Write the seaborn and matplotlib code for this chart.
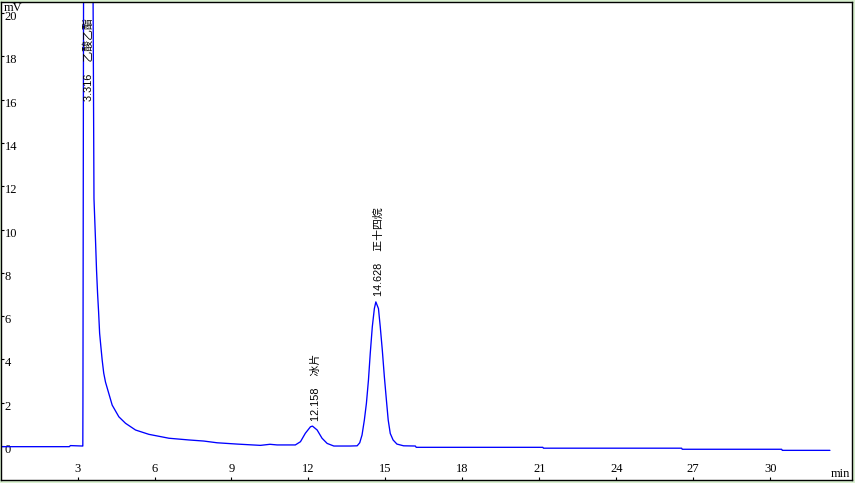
import numpy as np
import pandas as pd
import matplotlib
matplotlib.use("Agg")
import matplotlib.pyplot as plt
from matplotlib.transforms import ScaledTranslation
import seaborn as sns

# ---- data ----
time_min = [0.05, 1.0, 2.0, 2.68, 2.72, 3.19, 3.205, 3.21, 3.245, 3.316, 3.57, 3.64,
            3.70, 3.74, 3.78, 3.82, 3.86, 3.91, 3.96, 4.02, 4.09, 4.22, 4.35, 4.61,
            4.87, 5.26, 5.78, 6.56, 7.34, 7.92, 8.44, 9.22, 10.13, 10.50, 10.78, 11.49,
            11.69, 11.88, 12.08, 12.158, 12.34, 12.53, 12.73, 12.99, 13.63, 13.90,
            14.00, 14.09, 14.18, 14.26, 14.34, 14.41, 14.49, 14.57, 14.628, 14.73,
            14.80, 14.88, 14.96, 15.04, 15.11, 15.19, 15.30, 15.45, 15.71, 16.17,
            16.20, 21.14, 21.16, 26.55, 26.57, 30.45, 30.47, 32.33]
signal_mv = [-0.03, -0.03, -0.03, -0.03, 0.02, 0.0, 0.0, 2.1, 30.0, 60.0, 30.0, 11.43,
             9.51, 8.12, 7.06, 6.20, 5.21, 4.58, 3.97, 3.37, 2.95, 2.42, 1.89, 1.35,
             1.05, 0.74, 0.54, 0.36, 0.28, 0.23, 0.15, 0.09, 0.03, 0.08, 0.05, 0.05,
             0.20, 0.59, 0.89, 0.92, 0.74, 0.36, 0.12, 0.0, 0.0, 0.01,
             0.15, 0.51, 1.20, 1.97, 3.05, 4.28, 5.51, 6.35, 6.66, 6.35,
             5.51, 4.43, 3.20, 2.12, 1.20, 0.58, 0.28, 0.09, 0.01, 0.0,
             -0.06, -0.06, -0.10, -0.10, -0.15, -0.15, -0.20, -0.20]

peak_times = [3.316, 12.158, 14.628]
peak_names = ["乙酸乙酯", "冰片", "正十四烷"]

x_ticks = [3, 6, 9, 12, 15, 18, 21, 24, 27, 30]
y_ticks = [0, 2, 4, 6, 8, 10, 12, 14, 16, 18, 20]

df = pd.DataFrame({"time": time_min, "signal": signal_mv})

sns.set_style("white")
plt.rcParams["font.family"] = ["Liberation Serif", "DejaVu Serif"]

W, H = 855, 483
fig = plt.figure(figsize=(W / 100, H / 100), dpi=100, facecolor="#d8efcf")
ax = fig.add_axes([0.6 / W, 3.0 / H, (852 - 0.6) / W, (481.5 - 3.0) / H])
ax.set_facecolor("white")

sns.lineplot(data=df, x="time", y="signal", ax=ax, color="#0000ff",
             linewidth=0.95, sort=False, estimator=None, legend=False)

ax.set_xlim(0, 33.19)
ax.set_ylim(-1.57, 20.54)

for sp in ax.spines.values():
    sp.set_visible(True)
    sp.set_color("black")
    sp.set_linewidth(1.0)

ax.set_xticks(x_ticks)
ax.set_xticklabels([str(v) for v in x_ticks])
ax.set_yticks(y_ticks)
ax.set_yticklabels([str(v) for v in y_ticks])
ax.tick_params(axis="x", direction="in", length=2.5, width=0.8, color="black",
               pad=-3.6, labelsize=9, labelcolor="black", bottom=True)
ax.tick_params(axis="y", direction="in", length=2.5, width=0.8, color="black",
               pad=-2.8, labelsize=9, labelcolor="black", left=True)
for t in ax.get_xticklabels():
    t.set_va("bottom")
for t in ax.get_yticklabels():
    t.set_ha("left")
    t.set_va("top")
    t.set_transform(t.get_transform() + ScaledTranslation(0, 1.5 / 72, fig.dpi_scale_trans))

ax.set_xlabel("")
ax.set_ylabel("")
ax.text(0.998, 0.0, "min", transform=ax.transAxes, ha="right", va="bottom",
        fontsize=9, color="black")
ax.text(0.004, 0.999, "mV", transform=ax.transAxes, ha="left", va="top",
        fontsize=9, color="black")

apex = np.interp(peak_times, time_min, signal_mv)
for t, h, name in zip(peak_times, apex, peak_names):
    label = f"{t:.3f}    {name}"
    ax.annotate(label, xy=(t, min(h, 15.7)), xytext=(2.4, 4), textcoords="offset points",
                rotation=90, ha="center", va="bottom", fontsize=7.8, color="black",
                family=["Liberation Sans", "Noto Sans CJK SC"],
                annotation_clip=False, clip_on=True)

ax.grid(False)
fig.savefig("out.png", dpi=100, facecolor=fig.get_facecolor())
